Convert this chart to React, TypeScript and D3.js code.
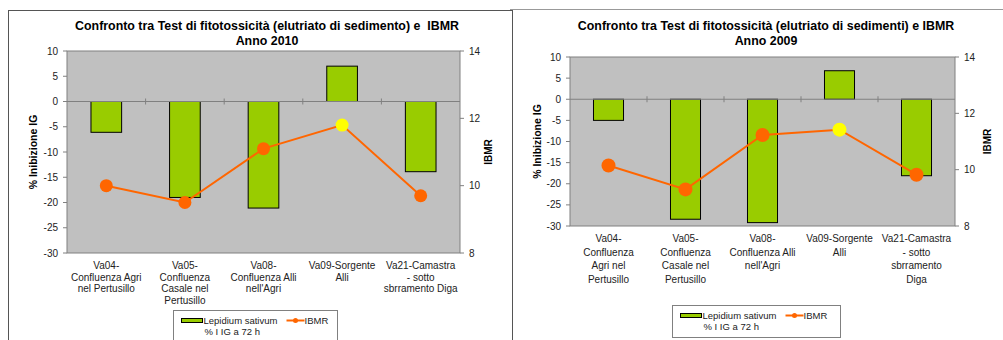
import React from "react";
import * as d3 from "d3";

// ---- Data ----
const categories2010: string[][] = [
  ["Va04-", "Confluenza Agri", "nel Pertusillo"],
  ["Va05-", "Confluenza", "Casale nel", "Pertusillo"],
  ["Va08-", "Confluenza Alli", "nell'Agri"],
  ["Va09-Sorgente", "Alli"],
  ["Va21-Camastra", "- sotto", "sbrramento Diga"],
];
const categories2009: string[][] = [
  ["Va04-", "Confluenza", "Agri nel", "Pertusillo"],
  ["Va05-", "Confluenza", "Casale nel", "Pertusillo"],
  ["Va08-", "Confluenza Alli", "nell'Agri"],
  ["Va09-Sorgente", "Alli"],
  ["Va21-Camastra", "- sotto", "sbrramento", "Diga"],
];
const lepidium2010 = [-6.1, -19, -21.1, 7, -13.9];
const ibmr2010 = [10.0, 9.5, 11.1, 11.8, 9.7];
const lepidium2009 = [-5, -28.4, -29.2, 6.75, -18.1];
const ibmr2009 = [10.15, 9.3, 11.23, 11.42, 9.82];
const leftTicks = [10, 5, 0, -5, -10, -15, -20, -25, -30];
const rightTicks = [14, 12, 10, 8];
const highlightIndex = 3;

const FONT = "'Liberation Sans', Arial, sans-serif";

type ChartProps = {
  title1: string;
  title2: string;
  cats: string[][];
  bars: number[];
  line: number[];
  plot: { x0: number; x1: number; y0: number; y1: number };
  titleX: number;
  catY: number;
  catLH: number;
  leftTitleX: number;
  rightTitleX: number;
  legend: { x: number; y: number; w: number; h: number };
  dotR: number;
};

function Chart(p: ChartProps) {
  const { plot } = p;
  const x = d3
    .scaleBand<number>()
    .domain(p.cats.map((_, i) => i))
    .range([plot.x0, plot.x1])
    .paddingInner(0.61)
    .paddingOuter(0.305);
  const band = d3.scaleBand<number>().domain(p.cats.map((_, i) => i)).range([plot.x0, plot.x1]);
  const y = d3.scaleLinear().domain([-30, 10]).range([plot.y1, plot.y0]);
  const y2 = d3.scaleLinear().domain([8, 14]).range([plot.y1, plot.y0]);
  const lineGen = d3
    .line<number>()
    .x((_, i) => band(i)! + band.bandwidth() / 2)
    .y((d) => y2(d));
  const lg = p.legend;
  return (
    <g>
      <text
        x={p.titleX}
        y={30}
        textAnchor="middle"
        fontFamily={FONT}
        fontWeight="bold"
        fontSize={12.4}
        style={{ whiteSpace: "pre" }}
      >
        {p.title1}
      </text>
      <text x={p.titleX} y={44.5} textAnchor="middle" fontFamily={FONT} fontWeight="bold" fontSize={12.4}>
        {p.title2}
      </text>
      <rect
        x={plot.x0}
        y={plot.y0}
        width={plot.x1 - plot.x0}
        height={plot.y1 - plot.y0}
        fill="#C0C0C0"
        stroke="#808080"
        strokeWidth={1}
      />
      {leftTicks.map((t) => (
        <g key={"l" + t}>
          <line x1={plot.x0 - 4} x2={plot.x0} y1={y(t)} y2={y(t)} stroke="#808080" />
          <text x={plot.x0 - 9} y={y(t) + 3.5} textAnchor="end" fontFamily={FONT} fontSize={10} fill="#222">
            {t}
          </text>
        </g>
      ))}
      {rightTicks.map((t) => (
        <g key={"r" + t}>
          <line x1={plot.x1} x2={plot.x1 + 4} y1={y2(t)} y2={y2(t)} stroke="#808080" />
          <text x={plot.x1 + 9} y={y2(t) + 3.5} textAnchor="start" fontFamily={FONT} fontSize={10} fill="#222">
            {t}
          </text>
        </g>
      ))}
      {p.bars.map((v, i) => (
        <rect
          key={"b" + i}
          x={x(i)}
          y={Math.min(y(v), y(0))}
          width={x.bandwidth()}
          height={Math.abs(y(v) - y(0))}
          fill="#99CC00"
          stroke="#000"
          strokeWidth={1}
        />
      ))}
      <line x1={plot.x0} x2={plot.x1} y1={y(0)} y2={y(0)} stroke="#808080" strokeWidth={1} />
      {p.cats.slice(1).map((_, i) => (
        <line
          key={"ct" + i}
          x1={band(i + 1)}
          x2={band(i + 1)}
          y1={y(0) - 3}
          y2={y(0) + 3}
          stroke="#808080"
        />
      ))}
      <path d={lineGen(p.line)!} fill="none" stroke="#FF6600" strokeWidth={2} />
      {p.line.map((v, i) => (
        <circle
          key={"d" + i}
          cx={band(i)! + band.bandwidth() / 2}
          cy={y2(v)}
          r={p.dotR}
          fill={i === highlightIndex ? "#FFFF00" : "#FF6600"}
        />
      ))}
      {p.cats.map((lines, i) => (
        <text
          key={"c" + i}
          x={band(i)! + band.bandwidth() / 2}
          textAnchor="middle"
          fontFamily={FONT}
          fontSize={10}
          fill="#222"
        >
          {lines.map((l, j) => (
            <tspan key={j} x={band(i)! + band.bandwidth() / 2} y={p.catY + j * p.catLH}>
              {l}
            </tspan>
          ))}
        </text>
      ))}
      <text
        transform={`translate(${p.leftTitleX},${(plot.y0 + plot.y1) / 2}) rotate(-90)`}
        textAnchor="middle"
        dy={3.5}
        fontFamily={FONT}
        fontWeight="bold"
        fontSize={10.5}
      >
        % Inibizione IG
      </text>
      <text
        transform={`translate(${p.rightTitleX},${(plot.y0 + plot.y1) / 2}) rotate(-90)`}
        textAnchor="middle"
        dy={3.5}
        fontFamily={FONT}
        fontWeight="bold"
        fontSize={10}
      >
        IBMR
      </text>
      <rect x={lg.x} y={lg.y} width={lg.w} height={lg.h} fill="#fff" stroke="#808080" />
      <rect x={lg.x + 8} y={lg.y + 8} width={21} height={4} fill="#99CC00" stroke="#000" />
      <text x={lg.x + 30} y={lg.y + 13} fontFamily={FONT} fontSize={9.5} fill="#222">
        Lepidium sativum
      </text>
      <text x={lg.x + 31} y={lg.y + 24.5} fontFamily={FONT} fontSize={9.5} fill="#222">
        % I IG a 72 h
      </text>
      <line x1={lg.x + 113} x2={lg.x + 131} y1={lg.y + 10} y2={lg.y + 10} stroke="#FF6600" strokeWidth={2} />
      <circle cx={lg.x + 122} cy={lg.y + 10} r={2.5} fill="#FF6600" />
      <text x={lg.x + 131} y={lg.y + 13} fontFamily={FONT} fontSize={9.5} fill="#222">
        IBMR
      </text>
    </g>
  );
}

export default function App() {
  return (
    <svg
      width={1003}
      height={340}
      style={{ position: "absolute", left: 0, top: 0, display: "block", background: "#fff" }}
    >
      <rect x={0} y={0} width={1003} height={340} fill="#fff" />
      <rect x={8.5} y={10.5} width={504} height={340} fill="none" stroke="#555" strokeWidth={1} />
      <line x1={510} x2={1003} y1={9.5} y2={9.5} stroke="#999" strokeWidth={1} />
      <Chart
        title1="Confronto tra Test di fitotossicità (elutriato di sedimento) e  IBMR"
        title2="Anno 2010"
        cats={categories2010}
        bars={lepidium2010}
        line={ibmr2010}
        plot={{ x0: 67, x1: 460, y0: 51, y1: 253 }}
        titleX={267}
        catY={269}
        catLH={11.5}
        leftTitleX={33}
        rightTitleX={488}
        legend={{ x: 173.5, y: 310.5, w: 164, h: 36 }}
        dotR={6.5}
      />
      <Chart
        title1="Confronto tra Test di fitotossicità (elutriato di sedimenti) e IBMR"
        title2="Anno 2009"
        cats={categories2009}
        bars={lepidium2009}
        line={ibmr2009}
        plot={{ x0: 570, x1: 955, y0: 57, y1: 226 }}
        titleX={766}
        catY={242}
        catLH={13.5}
        leftTitleX={537}
        rightTitleX={987}
        legend={{ x: 672.5, y: 305.5, w: 168, h: 32 }}
        dotR={7}
      />
    </svg>
  );
}
